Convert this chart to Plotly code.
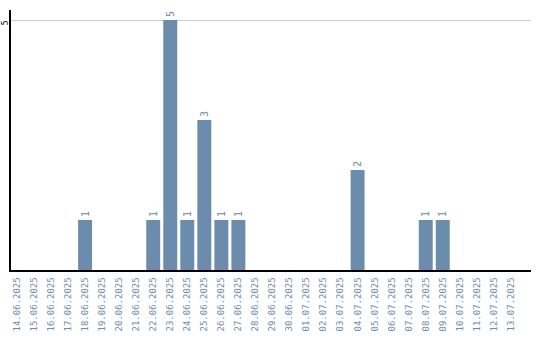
import plotly.graph_objects as go

dates = ["14.06.2025","15.06.2025","16.06.2025","17.06.2025","18.06.2025","19.06.2025",
         "20.06.2025","21.06.2025","22.06.2025","23.06.2025","24.06.2025","25.06.2025",
         "26.06.2025","27.06.2025","28.06.2025","29.06.2025","30.06.2025","01.07.2025",
         "02.07.2025","03.07.2025","04.07.2025","05.07.2025","06.07.2025","07.07.2025",
         "08.07.2025","09.07.2025","10.07.2025","11.07.2025","12.07.2025","13.07.2025"]
counts = [0,0,0,0,1,0,0,0,1,5,1,3,1,1,0,0,0,0,0,0,2,0,0,0,1,1,0,0,0,0]

bar_color = "#6b8cad"
labels = [str(v) if v > 0 else "" for v in counts]

fig = go.Figure(go.Bar(
    x=dates, y=counts, marker_color=bar_color, marker_line_width=0,
    text=labels, textposition="outside", textangle=-90, cliponaxis=False,
    textfont=dict(family="DejaVu Sans Mono", size=10, color=bar_color),
))
fig.update_layout(
    width=540, height=340, margin=dict(l=11, r=9, t=10, b=70),
    plot_bgcolor="white", paper_bgcolor="white", bargap=0.18, showlegend=False,
)
fig.update_xaxes(type="category", range=[-0.35, 30.18], tickangle=-90, automargin=False,
                 showline=True, linecolor="black", linewidth=1.5, showgrid=False,
                 ticks="", ticklabelstandoff=2,
                 tickfont=dict(family="DejaVu Sans Mono", size=9, color=bar_color))
fig.update_yaxes(range=[0, 5.2], tickvals=[5], ticktext=["5"], tickangle=-90, automargin=False,
                 showline=True, linecolor="black", linewidth=1.5, showgrid=True,
                 gridcolor="#cccccc", gridwidth=1, zeroline=False, ticks="",
                 ticklabelstandoff=-2, ticklabelshift=4,
                 tickfont=dict(family="DejaVu Sans Mono", size=8, color="black"))
fig.write_html("out.html")
